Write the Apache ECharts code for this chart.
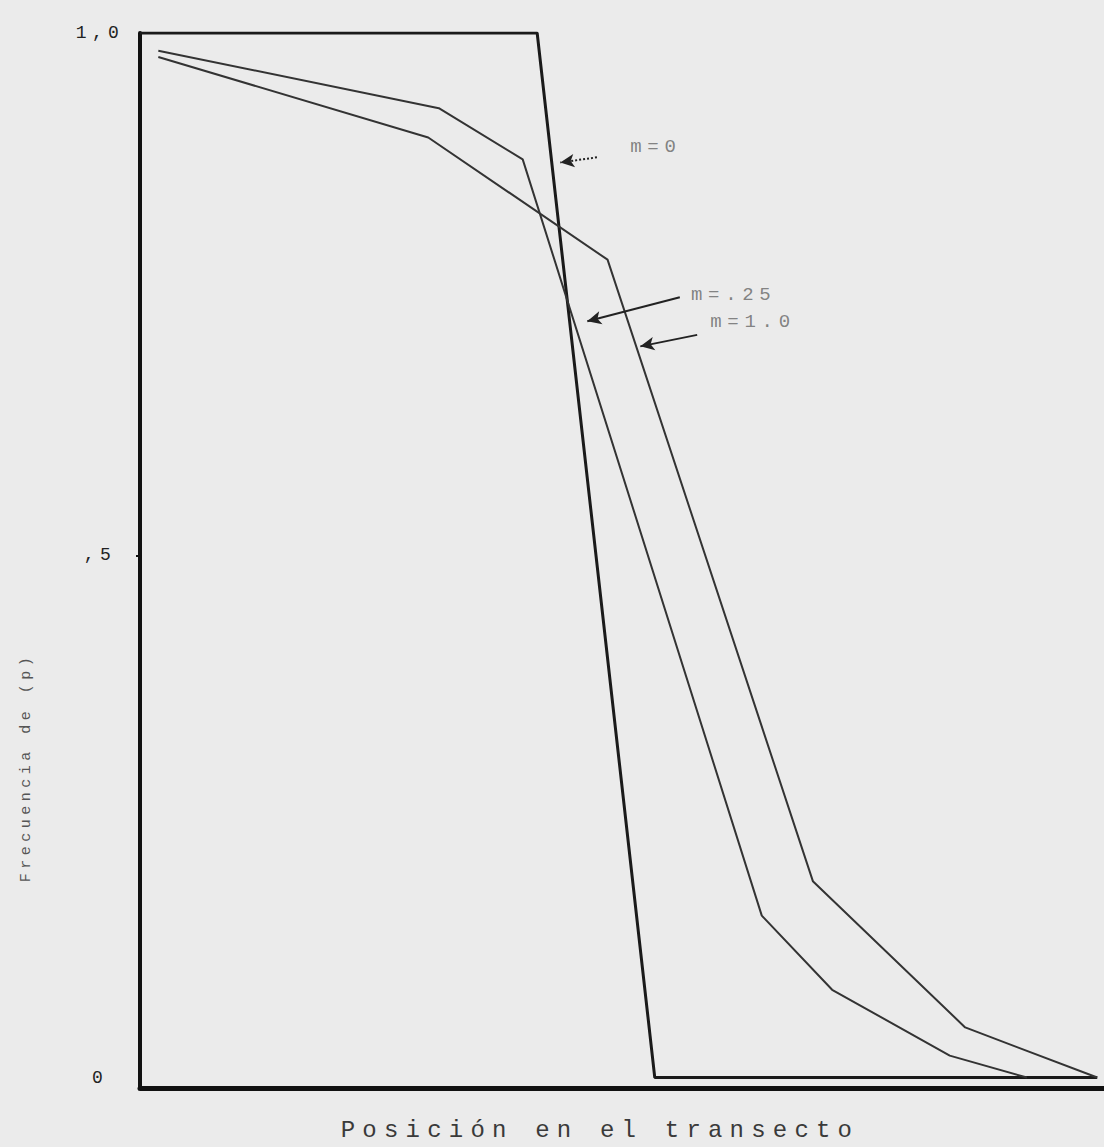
<!DOCTYPE html>
<html>
<head>
<meta charset="utf-8">
<script src="https://cdn.jsdelivr.net/npm/echarts@6/dist/echarts.min.js"></script>
<style>
  html, body { margin: 0; padding: 0; background: #ebebeb; }
  #chart { width: 1104px; height: 1147px; }
  /* typewriter look: wide letter spacing on every text */
  #chart text { letter-spacing: 0.3em; }
</style>
</head>
<body>
<div id="chart"></div>
<script>
// position along the transect (0-100) and frequency p
const m0X = [0, 41.2, 53.4, 99.3];
const m0Y = [1.0, 1.0, 0, 0];
const m25X = [1.9, 31.0, 39.7, 64.5, 71.8, 84.0, 92.0];
const m25Y = [0.983, 0.928, 0.879, 0.155, 0.084, 0.021, 0.0];
const m1X = [1.9, 29.9, 48.5, 69.8, 85.6, 99.3];
const m1Y = [0.977, 0.900, 0.783, 0.188, 0.048, 0.0];

const yTickValues = [0, 0.5, 1];
const yTickLabels = ['0', ',5', '1,0'];

// annotation labels and arrows (data coordinates)
const annNames = ['m=0', 'm=.25', 'm=1.0'];
const annText = [[50.8, 0.891], [57.1, 0.749], [59.1, 0.723]];
const annTail = [[47.4, 0.881], [56.0, 0.747], [57.8, 0.711]];
const annTip = [[43.6, 0.876], [46.4, 0.724], [51.9, 0.700]];

const mono = 'Liberation Mono, DejaVu Sans Mono, monospace';
const zip = (xs, ys) => xs.map((x, i) => [x, ys[i]]);

const chart = echarts.init(document.getElementById('chart'), null, { renderer: 'svg' });

chart.setOption({
  backgroundColor: '#ebebeb',
  animation: false,
  grid: { left: 140, right: 0, top: 33, bottom: 57 },
  xAxis: {
    type: 'value',
    min: 0,
    max: 100,
    name: 'Posición en el transecto',
    nameLocation: 'middle',
    nameGap: 30,
    nameTextStyle: { fontFamily: mono, fontSize: 24, color: '#3a3a3a', padding: [0, 44, 0, 0] },
    axisLine: { onZero: false, lineStyle: { color: '#111', width: 5 } },
    axisTick: { show: false },
    axisLabel: { show: false },
    splitLine: { show: false }
  },
  yAxis: {
    type: 'value',
    min: -0.01,
    max: 1,
    name: 'Frecuencia de (p)',
    nameLocation: 'middle',
    nameGap: 106,
    nameTextStyle: { fontFamily: mono, fontSize: 15, color: '#555', padding: [0, 414, 0, 0] },
    axisLine: { show: true, lineStyle: { color: '#111', width: 4 } },
    axisTick: { show: true, customValues: [0.5], length: 4, lineStyle: { color: '#111', width: 2 } },
    axisLabel: {
      customValues: yTickValues,
      formatter: v => yTickLabels[yTickValues.indexOf(v)] || '',
      align: 'center',
      verticalAlign: 'middle',
      padding: [0, 0, 10, 0],
      margin: 40,
      fontFamily: mono,
      fontSize: 18,
      color: '#222'
    },
    splitLine: { show: false }
  },
  series: [
    {
      name: 'm=0',
      type: 'line',
      data: zip(m0X, m0Y),
      showSymbol: false,
      lineStyle: { color: '#1a1a1a', width: 3 },
      z: 3
    },
    {
      name: 'm=.25',
      type: 'line',
      data: zip(m25X, m25Y),
      showSymbol: false,
      lineStyle: { color: '#333', width: 2 }
    },
    {
      name: 'm=1.0',
      type: 'line',
      data: zip(m1X, m1Y),
      showSymbol: false,
      lineStyle: { color: '#333', width: 2 }
    },
    {
      name: 'labels',
      type: 'scatter',
      data: annText,
      symbolSize: 1,
      itemStyle: { color: 'rgba(0,0,0,0)' },
      silent: true,
      label: {
        show: true,
        position: 'right',
        distance: 0,
        formatter: p => annNames[p.dataIndex],
        fontFamily: mono,
        fontSize: 19,
        color: '#666'
      },
      markLine: {
        silent: true,
        symbol: ['none', 'arrow'],
        symbolSize: [10, 14],
        label: { show: false },
        lineStyle: { color: '#222', width: 2, type: 'solid' },
        data: annTail.map((t, i) => [
          { coord: t, lineStyle: i === 0 ? { type: 'dotted', width: 2 } : {} },
          { coord: annTip[i] }
        ])
      }
    }
  ]
});
</script>
</body>
</html>
